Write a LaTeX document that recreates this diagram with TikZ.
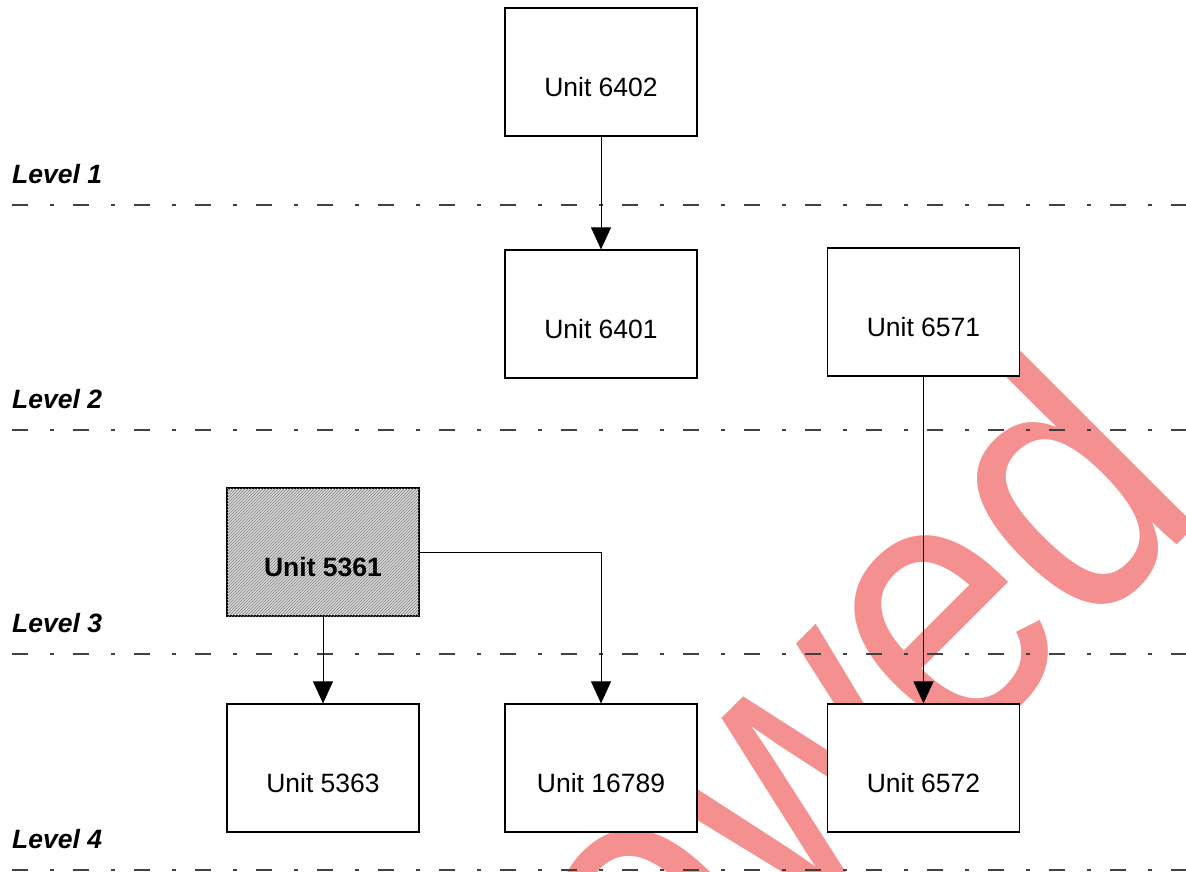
\documentclass[tikz,border=0pt]{standalone}
\usepackage{graphicx}
\usepackage{fontspec}
\setmainfont{Liberation Sans}
\usetikzlibrary{arrows.meta,patterns}
\definecolor{wmred}{HTML}{F4908F}
\definecolor{lvlgray}{HTML}{404040}

\begin{document}
\begin{tikzpicture}[
    x=1pt, y=-1pt,
    unitbox/.style={
      draw=black, line width=1.2pt, fill=white,
      minimum width=192pt, inner sep=0pt,
      text height=88.5pt, text depth=39.5pt,
      font=\fontsize{26.5}{30}\selectfont,
    },
    lvlline/.style={draw=lvlgray, line width=1.4pt,
      dash pattern=on 16pt off 22pt on 4pt off 19pt, dash phase=49pt},
    lvllbl/.style={font=\fontsize{26.5}{30}\selectfont\bfseries\itshape,
      anchor=base west, inner sep=0pt},
    link/.style={line width=0.9pt, -{Triangle[length=22pt,width=20pt]}},
  ]
  \useasboundingbox (0,0) rectangle (1186,872);
  \clip (0,0) rectangle (1186,872);

  % ===== watermark (under everything) =====
  \node[text=wmred, rotate=45, anchor=base east, inner sep=0pt,
        font=\fontsize{325}{325}\selectfont] (stamp) at (1212,510)
        {\scalebox{1}[1.16]{Reviewed}};

  % ===== level separators =====
  \foreach \n/\y in {1/205, 2/430, 3/654, 4/870} {
    \draw[lvlline] (0,\y) -- (1186,\y);
    \node[lvllbl] (lvl\n) at (12,\y-22) {Level \n};
  }

  % ===== units =====
  \foreach \nm/\x/\y in {6402/601/72, 6401/601/314, 6571/923.5/312,
      5363/323/768, 16789/601/768, 6572/923.5/768} {
    \node[unitbox] (u\nm) at (\x,\y) {Unit \nm};
  }
  \node[unitbox, fill=gray!30,
        postaction={pattern=north east lines, pattern color=gray},
        font=\fontsize{26.5}{30}\selectfont\bfseries] (u5361) at (323,552) {Unit 5361};

  % ===== links =====
  \draw[link] (u6402) -- (u6401);
  \draw[link] (u6571) -- (u6572);
  \draw[link] (u5361) -- (u5363);
  \draw[link] (u5361.east) -| (u16789);
\end{tikzpicture}
\end{document}
